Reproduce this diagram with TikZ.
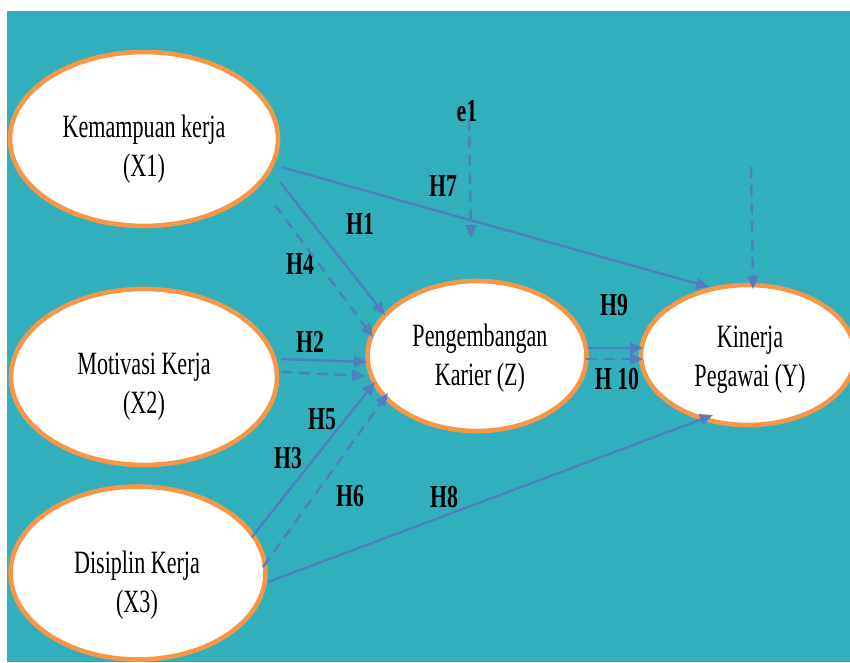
\documentclass[tikz,border=0pt]{standalone}
\usepackage{fontspec}
\setmainfont{Liberation Serif}[FakeStretch=0.68]
\usetikzlibrary{arrows.meta,shapes.geometric}
\definecolor{tealbg}{HTML}{32AFBD}
\definecolor{orng}{HTML}{F79646}
\definecolor{blu}{HTML}{4F7FC0}
\begin{document}
\begin{tikzpicture}[x=1pt,y=-1pt,
 latent/.style={ellipse, draw=orng, line width=4.6pt, fill=white, inner sep=0pt},
 nodetext/.style={align=center, font=\fontsize{32.5}{39}\selectfont, inner sep=0pt},
 hlabel/.style={font=\fontsize{32}{38}\selectfont\bfseries, inner sep=0pt},
 solidpath/.style={draw=blu, line width=2.4pt, -{Triangle[length=13pt,width=11pt]}},
 dashpath/.style={solidpath, dash pattern=on 11pt off 7pt}]
\clip (0,0) rectangle (850,662);
\fill[white] (0,0) rectangle (850,662);
\fill[tealbg] (7,11) rectangle (850,662);

% ellipses
\node[latent, minimum width=268, minimum height=174] (x1) at (144,139) {};
\node[latent, minimum width=266, minimum height=176] (x2) at (144,377) {};
\node[latent, minimum width=255, minimum height=173] (x3) at (138,573) {};
\node[latent, minimum width=219, minimum height=150] (z) at (477,356) {};
\node[latent, minimum width=214, minimum height=140] (y) at (748,355) {};

% texts
\node[nodetext] (x1t) at (144,149) {Kemampuan kerja\\(X1)};
\node[nodetext] (x2t) at (144,387) {Motivasi Kerja\\(X2)};
\node[nodetext] (x3t) at (137,585) {Disiplin Kerja\\(X3)};
\node[nodetext] (zt) at (480,358) {Pengembangan\\Karier (Z)};
\node[nodetext] (yt) at (750,360) {Kinerja\\Pegawai (Y)};

% labels
\node[hlabel] (e1) at (467,111) {e1};
\node[hlabel] (h7) at (443,186) {H7};
\node[hlabel] (h1) at (360,224) {H1};
\node[hlabel] (h4) at (300,264) {H4};
\node[hlabel] (h2) at (310,342) {H2};
\node[hlabel] (h5) at (322,419) {H5};
\node[hlabel] (h3) at (288,458) {H3};
\node[hlabel] (h6) at (350,496) {H6};
\node[hlabel] (h8) at (444,497) {H8};
\node[hlabel] (h9) at (614,305) {H9};
\node[hlabel] (h10) at (617,379) {H 10};

\coordinate (ey) at (751,167);

% connectors
\draw[solidpath] ([shift={(137,28)}]x1.center) -- ([shift={(-39,-68)}]y.center);
\draw[solidpath] ([shift={(136,43)}]x1.center) -- ([shift={(-92,-41)}]z.center);
\draw[dashpath] ([shift={(131,66)}]x1.center) -- ([shift={(-104,-19)}]z.center);
\draw[solidpath] ([shift={(137,-18)}]x2.center) -- ([shift={(-110,6)}]z.center);
\draw[dashpath] ([shift={(137,-5)}]x2.center) -- ([shift={(-112,20)}]z.center);
\draw[solidpath] ([shift={(114,-36)}]x3.center) -- ([shift={(-102,26)}]z.center);
\draw[dashpath] ([shift={(125,-6)}]x3.center) -- ([shift={(-89,37)}]z.center);
\draw[solidpath] ([shift={(130,9)}]x3.center) -- ([shift={(-35,60)}]y.center);
\draw[solidpath] ([shift={(111,-8)}]z.center) -- ([shift={(-105,-7)}]y.center);
\draw[dashpath] ([shift={(109,3)}]z.center) -- ([shift={(-105,4)}]y.center);
\draw[dashpath] ([shift={(2,8)}]e1.center) -- ([shift={(-6,-118)}]z.center);
\draw[dashpath] (ey) -- ([shift={(5,-66)}]y.center);
\end{tikzpicture}
\end{document}
